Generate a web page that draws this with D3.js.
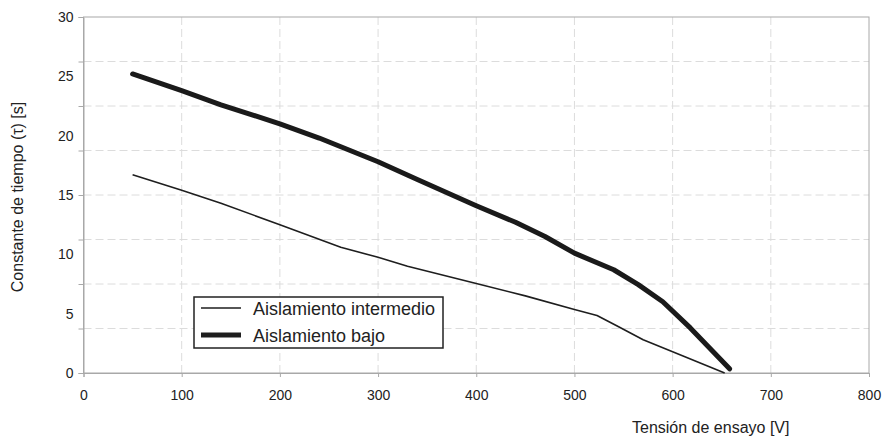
<!DOCTYPE html>
<html>
<head>
<meta charset="utf-8">
<script src="https://cdn.jsdelivr.net/npm/d3@7"></script>
<style>
	body { margin: 0; background: #fff; }
	#chart-area { width: 883px; height: 439px; }
	text { font-family: "Liberation Sans", Arial, sans-serif; fill: #222; }
</style>
</head>
<body>
<div id="chart-area"></div>
<script>
// tension [V] and time constant [s]
const voltIntermedio = [50, 100, 140, 200, 262, 300, 330, 400, 450, 500, 523, 545, 570, 610, 653];
const tauIntermedio = [16.7, 15.4, 14.3, 12.5, 10.6, 9.75, 9.0, 7.55, 6.5, 5.35, 4.85, 3.9, 2.8, 1.45, 0];

const voltBajo = [50, 100, 140, 200, 240, 300, 340, 400, 440, 470, 500, 540, 565, 590, 618, 658];
const tauBajo = [25.2, 23.8, 22.6, 21.0, 19.8, 17.8, 16.3, 14.1, 12.7, 11.5, 10.1, 8.7, 7.45, 6.0, 3.8, 0.35];

const xTicks = [0, 100, 200, 300, 400, 500, 600, 700, 800];
const yLabels = [0, 5, 10, 15, 20, 25, 30];
const yGrid = [0, 3.75, 7.5, 11.25, 15, 18.75, 22.5, 26.25, 30];

const seriesNames = ['Aislamiento intermedio', 'Aislamiento bajo'];

window.addEventListener('DOMContentLoaded', () => {

	const margin = { top: 17, right: 14, bottom: 66, left: 83.5 };
	const width = 883 - margin.left - margin.right;
	const height = 439 - margin.top - margin.bottom;

	const svg = d3.select('#chart-area')
		.append('svg')
		.attr('width', 883)
		.attr('height', 439);

	const g = svg.append('g')
		.attr('transform', `translate(${margin.left}, ${margin.top})`);

	// Scales
	const x = d3.scaleLinear().domain([0, 800]).range([0, width]);
	const y = d3.scaleLinear().domain([0, 30]).range([height, 0]);

	// dashed grid
	g.append('g')
		.selectAll('line')
		.data(xTicks.slice(1, -1))
		.enter()
			.append('line')
			.attr('x1', d => x(d)).attr('x2', d => x(d))
			.attr('y1', 0).attr('y2', height)
			.attr('stroke', '#dcdcdc')
			.attr('stroke-dasharray', '8,4');

	g.append('g')
		.selectAll('line')
		.data(yGrid.slice(1, -1))
		.enter()
			.append('line')
			.attr('x1', 0).attr('x2', width)
			.attr('y1', d => y(d)).attr('y2', d => y(d))
			.attr('stroke', '#dcdcdc')
			.attr('stroke-dasharray', '8,4');

	// frame
	g.append('rect')
		.attr('width', width)
		.attr('height', height)
		.attr('fill', 'none')
		.attr('stroke', '#a8a8a8');

	// X axis
	const bottomAxis = d3.axisBottom(x)
		.tickValues(xTicks)
		.tickSize(4)
		.tickPadding(13)
		.tickFormat(d3.format('d'));
	const xg = g.append('g')
		.attr('transform', `translate(0, ${height})`)
		.call(bottomAxis);

	// Y axis: tick marks on grid, labels every 5
	const leftTicks = d3.axisLeft(y)
		.tickValues(yGrid)
		.tickSize(5)
		.tickFormat('');
	const yg = g.append('g').call(leftTicks);

	const leftLabels = d3.axisLeft(y)
		.tickValues(yLabels)
		.tickSize(0)
		.tickPadding(10)
		.tickFormat(d3.format('d'));
	const yl = g.append('g').call(leftLabels);
	yl.select('.domain').remove();

	[xg, yg].forEach(a => {
		a.select('.domain').attr('stroke', '#a8a8a8');
		a.selectAll('.tick line').attr('stroke', '#a8a8a8');
	});
	[xg, yl].forEach(a => {
		a.selectAll('text')
			.style('font-family', '"Liberation Sans", Arial, sans-serif')
			.style('font-size', '14px')
			.attr('fill', '#222');
	});

	// lines
	const line = d3.line()
		.x(d => x(d[0]))
		.y(d => y(d[1]));

	const intermedio = voltIntermedio.map((v, i) => [v, tauIntermedio[i]]);
	const bajo = voltBajo.map((v, i) => [v, tauBajo[i]]);

	g.append('path')
		.datum(intermedio)
		.attr('d', line)
		.attr('fill', 'none')
		.attr('stroke', '#1e1e1e')
		.attr('stroke-width', 1.6)
		.attr('stroke-linejoin', 'round');

	g.append('path')
		.datum(bajo)
		.attr('d', line)
		.attr('fill', 'none')
		.attr('stroke', '#1a1a1a')
		.attr('stroke-width', 5)
		.attr('stroke-linejoin', 'round')
		.attr('stroke-linecap', 'round');

	// axis titles
	svg.append('text')
		.attr('x', 632)
		.attr('y', 433)
		.style('font-size', '16px')
		.text('Tensión de ensayo [V]');

	svg.append('text')
		.attr('transform', 'translate(23, 197) rotate(-90)')
		.attr('text-anchor', 'middle')
		.style('font-size', '16px')
		.text('Constante de tiempo  (τ) [s]');

	// legend
	const legend = svg.append('g').attr('transform', 'translate(194, 297)');
	legend.append('rect')
		.attr('width', 249)
		.attr('height', 51)
		.attr('fill', '#fff')
		.attr('stroke', '#222')
		.attr('stroke-width', 1.5);

	const widths = [1.6, 5];
	seriesNames.forEach((name, i) => {
		const row = legend.append('g').attr('transform', `translate(0, ${11 + i * 27})`);
		row.append('line')
			.attr('x1', 7).attr('x2', 47)
			.attr('stroke', '#1e1e1e')
			.attr('stroke-width', widths[i]);
		row.append('text')
			.attr('x', 59)
			.attr('y', 6.5)
			.style('font-size', '18px')
			.text(name);
	});

}); // end of document ready
</script>
</body>
</html>
